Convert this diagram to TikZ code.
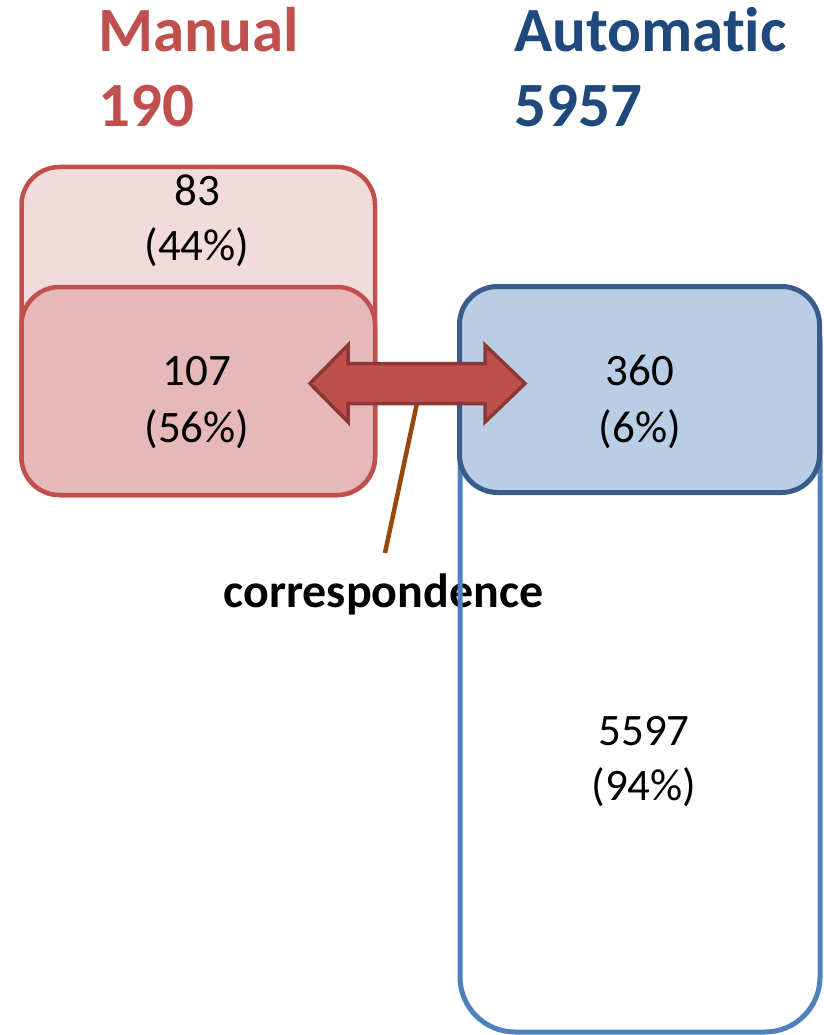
\documentclass[tikz,border=0pt]{standalone}
\usepackage{fontspec}
\setmainfont{Carlito}[Ligatures=NoCommon]
\definecolor{manred}{HTML}{C0504D}
\definecolor{manlight}{HTML}{F2DCDB}
\definecolor{manmid}{HTML}{E6B9B8}
\definecolor{arrowedge}{HTML}{8C3836}
\definecolor{autoblue}{HTML}{1F497D}
\definecolor{autoedge}{HTML}{4F81BD}
\definecolor{autodark}{HTML}{385D8A}
\definecolor{autofill}{HTML}{B9CDE5}
\definecolor{linkbrown}{HTML}{984807}
\begin{document}
\begin{tikzpicture}[x=1pt,y=-1pt,
  title/.style={font=\bfseries\fontsize{63}{75}\selectfont, anchor=base west, inner sep=0pt},
  count/.style={font=\fontsize{45}{54}\selectfont, anchor=base, inner sep=0pt},
  setbox/.style={rectangle, rounded corners=#1, inner sep=0pt, line width=4.5pt},
  setbox/.default=38pt,
]
\useasboundingbox (0,0) rectangle (823,1035);

% headings
\node[title, text=manred] (mtitle) at (98,52) {Manual};
\node[title, text=manred] (mtotal) at (98,127) {190};
\node[title, text=autoblue] (atitle) at (514,52) {Automatic};
\node[title, text=autoblue] (atotal) at (514,127) {5957};

% manual set: all and matched parts
\node[setbox, draw=manred, fill=manlight, minimum width=353.5pt, minimum height=328pt] (mall) at (198.25,331) {};
\node[setbox, draw=manred, fill=manmid, minimum width=353.5pt, minimum height=208pt] (mmatch) at (198.25,391) {};

% label of the link
\node[font=\bfseries\fontsize{48}{57}\selectfont, anchor=base, inner sep=0pt] (corr) at (383.5,607) {correspondence};

% automatic set: all and matched parts
\node[setbox=55pt, draw=autoedge, line width=5pt, minimum width=360pt, minimum height=745pt] (aall) at (640,659.5) {};
\node[setbox, draw=autodark, fill=autofill, line width=5pt, minimum width=360pt, minimum height=206pt] (amatch) at (639.5,389.5) {};

% counts
\node[count] (c83) at (197,205) {83};
\node[count] (p44) at (197,260) {(44\%)};
\node[count] (c107) at (197,385) {107};
\node[count] (p56) at (197,442) {(56\%)};
\node[count] (c360) at (640,385) {360};
\node[count] (p6) at (640,442) {(6\%)};
\node[count] (c5597) at (644,745) {5597};
\node[count] (p94) at (644,800) {(94\%)};

% leader from the label to the arrow
\coordinate (lead) at (417,403);
\coordinate (leadend) at (385,553);
\draw[linkbrown, line width=4.5pt] (leadend) -- (lead);

% double arrow between the matched parts
\draw[fill=manred, draw=arrowedge, line width=3.5pt, line join=miter]
  (310,383.5) -- (348,345) -- (348,363.5) -- (485,363.5) -- (485,345)
  -- (525,383.5) -- (485,422) -- (485,403.5) -- (348,403.5) -- (348,422) -- cycle;
\end{tikzpicture}
\end{document}
